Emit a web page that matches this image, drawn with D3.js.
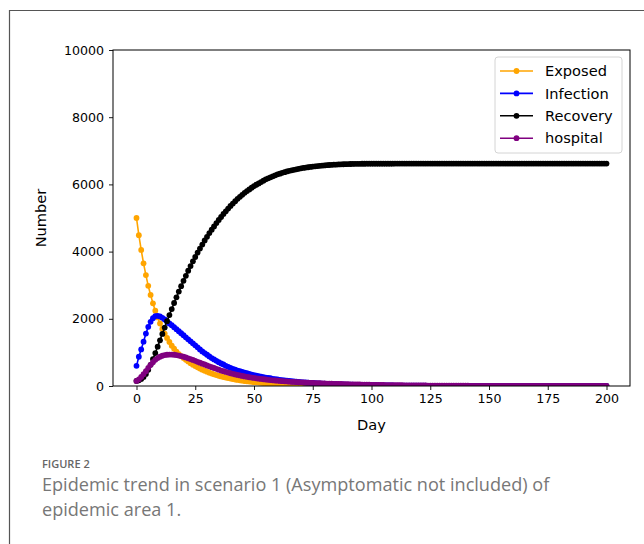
<!DOCTYPE html>
<html lang="en">
<head>
    <meta charset="UTF-8">
    <title>Epidemic trend</title>
    <script src="https://d3js.org/d3.v7.min.js"></script>
    <style>
        body { margin: 0; background: #fff; }
        svg { display: block; }
    </style>
</head>
<body>
<div id="chart"></div>

<script>
    // one value per day, day 0..200
    var exposed = [
        5000, 4490, 4050, 3650, 3300, 2980, 2710, 2460, 2240, 2040,
        1860, 1700, 1560, 1430, 1310, 1200, 1110, 1020, 950, 890,
        830, 780, 730, 680, 635, 595, 555, 520, 485, 455,
        425, 398, 372, 348, 326, 305, 286, 268, 251, 235,
        220, 206, 193, 181, 170, 159, 149, 140, 131, 123,
        115, 108, 101, 95, 89, 83, 78, 73, 68, 64,
        60, 56, 52, 49, 46, 43, 40, 38, 35, 33,
        31, 29, 27, 25, 24, 22, 21, 19, 18, 17,
        16, 15, 14, 13, 12, 11, 10, 10, 9, 8,
        8, 7, 7, 6, 6, 5, 5, 5, 4, 4,
        4, 3, 3, 3, 3, 2, 2, 2, 2, 2,
        2, 1, 1, 1, 1, 1, 1, 1, 1, 1,
        1, 1, 1, 1, 1, 0, 0, 0, 0, 0,
        0, 0, 0, 0, 0, 0, 0, 0, 0, 0,
        0, 0, 0, 0, 0, 0, 0, 0, 0, 0,
        0, 0, 0, 0, 0, 0, 0, 0, 0, 0,
        0, 0, 0, 0, 0, 0, 0, 0, 0, 0,
        0, 0, 0, 0, 0, 0, 0, 0, 0, 0,
        0, 0, 0, 0, 0, 0, 0, 0, 0, 0,
        0, 0, 0, 0, 0, 0, 0, 0, 0, 0,
        0
    ];

    var infection = [
        600, 870, 1090, 1320, 1560, 1760, 1910, 2020, 2080, 2090,
        2070, 2030, 1980, 1920, 1860, 1810, 1750, 1690, 1630, 1570,
        1510, 1450, 1390, 1330, 1270, 1210, 1150, 1090, 1030, 980,
        930, 880, 830, 790, 750, 710, 670, 640, 600, 570,
        540, 510, 490, 460, 440, 420, 400, 380, 360, 340,
        320, 310, 290, 280, 260, 250, 240, 230, 215, 205,
        195, 185, 175, 165, 158, 150, 142, 135, 128, 122,
        116, 110, 104, 99, 94, 89, 85, 80, 76, 72,
        69, 65, 62, 59, 56, 53, 50, 48, 45, 43,
        41, 39, 37, 35, 33, 32, 30, 28, 27, 26,
        24, 23, 22, 21, 20, 19, 18, 17, 16, 15,
        14, 13, 12, 12, 11, 10, 10, 9, 9, 8,
        8, 7, 7, 7, 6, 6, 6, 5, 5, 5,
        5, 4, 4, 4, 4, 3, 3, 3, 3, 3,
        2, 2, 2, 2, 2, 2, 2, 2, 1, 1,
        1, 1, 1, 1, 1, 1, 1, 1, 1, 1,
        1, 1, 1, 1, 1, 0, 0, 0, 0, 0,
        0, 0, 0, 0, 0, 0, 0, 0, 0, 0,
        0, 0, 0, 0, 0, 0, 0, 0, 0, 0,
        0, 0, 0, 0, 0, 0, 0, 0, 0, 0,
        0
    ];

    var recovery = [
        150, 170, 210, 270, 360, 480, 630, 800, 980, 1170,
        1360, 1550, 1740, 1930, 2110, 2290, 2470, 2640, 2810, 2970,
        3130, 3280, 3430, 3570, 3710, 3840, 3970, 4090, 4210, 4330,
        4440, 4550, 4650, 4750, 4850, 4940, 5030, 5120, 5200, 5280,
        5360, 5430, 5500, 5570, 5630, 5690, 5750, 5800, 5850, 5900,
        5950, 5990, 6030, 6070, 6110, 6150, 6180, 6210, 6240, 6270,
        6300, 6320, 6345, 6365, 6385, 6405, 6420, 6435, 6450, 6465,
        6478, 6490, 6500, 6510, 6520, 6530, 6538, 6546, 6553, 6560,
        6566, 6572, 6577, 6582, 6586, 6590, 6594, 6597, 6600, 6603,
        6605, 6607, 6609, 6611, 6612, 6613, 6614, 6615, 6616, 6617,
        6618, 6618, 6618, 6618, 6618, 6618, 6618, 6618, 6618, 6618,
        6619, 6619, 6619, 6619, 6619, 6619, 6619, 6619, 6619, 6619,
        6620, 6620, 6620, 6620, 6620, 6620, 6620, 6620, 6620, 6620,
        6620, 6620, 6620, 6620, 6620, 6620, 6620, 6620, 6620, 6620,
        6620, 6620, 6620, 6620, 6620, 6620, 6620, 6620, 6620, 6620,
        6620, 6620, 6620, 6620, 6620, 6620, 6620, 6620, 6620, 6620,
        6620, 6620, 6620, 6620, 6620, 6620, 6620, 6620, 6620, 6620,
        6620, 6620, 6620, 6620, 6620, 6620, 6620, 6620, 6620, 6620,
        6620, 6620, 6620, 6620, 6620, 6620, 6620, 6620, 6620, 6620,
        6620, 6620, 6620, 6620, 6620, 6620, 6620, 6620, 6620, 6620,
        6620
    ];

    var hospital = [
        150, 200, 270, 350, 440, 540, 630, 710, 780, 830,
        870, 900, 920, 930, 935, 935, 930, 920, 905, 890,
        870, 850, 825, 800, 775, 750, 720, 695, 665, 640,
        610, 585, 560, 535, 510, 485, 460, 440, 420, 400,
        380, 362, 345, 329, 314, 300, 286, 273, 261, 250,
        239, 229, 219, 210, 201, 193, 185, 177, 170, 163,
        157, 151, 145, 140, 135, 130, 125, 120, 116, 112,
        108, 104, 100, 97, 94, 91, 88, 85, 82, 79,
        76, 73, 70, 68, 66, 63, 61, 59, 57, 55,
        53, 51, 49, 47, 45, 44, 42, 40, 39, 37,
        36, 35, 33, 32, 31, 30, 29, 28, 27, 26,
        25, 24, 23, 22, 21, 20, 19, 19, 18, 17,
        16, 16, 15, 15, 14, 13, 13, 12, 12, 11,
        11, 10, 10, 10, 9, 9, 8, 8, 8, 7,
        7, 7, 6, 6, 6, 6, 5, 5, 5, 5,
        4, 4, 4, 4, 4, 3, 3, 3, 3, 3,
        3, 3, 2, 2, 2, 2, 2, 2, 2, 2,
        2, 1, 1, 1, 1, 1, 1, 1, 1, 1,
        1, 1, 1, 1, 1, 1, 1, 1, 1, 1,
        1, 1, 1, 1, 1, 1, 1, 1, 1, 1,
        1
    ];

    var seriesNames = ["Exposed", "Infection", "Recovery", "hospital"];
    var seriesColors = ["orange", "blue", "black", "purple"];
    var xTicks = [0, 25, 50, 75, 100, 125, 150, 175, 200];
    var yTicks = [0, 2000, 4000, 6000, 8000, 10000];

    var series = [exposed, infection, recovery, hospital].map(function (vals, i) {
        return {
            name: seriesNames[i],
            color: seriesColors[i],
            values: vals.map(function (v, day) { return {day: day, value: v}; })
        };
    });

    var W = 644, H = 544,
        margin = {top: 50, right: 14, bottom: 158, left: 113},
        width = W - margin.left - margin.right,
        height = H - margin.top - margin.bottom;

    var svg = d3.select("#chart").append("svg")
        .attr("width", W)
        .attr("height", H)
        .style("font-family", "'DejaVu Sans', sans-serif");

    svg.append("rect").attr("width", W).attr("height", H).attr("fill", "#fff");

    // page frame (top and left edge)
    svg.append("path")
        .attr("d", "M9.5," + H + "V10.5H" + W)
        .attr("fill", "none")
        .attr("stroke", "#555")
        .attr("stroke-width", 1.2);

    var g = svg.append("g").attr("transform", "translate(" + margin.left + "," + margin.top + ")");

    var x = d3.scaleLinear().domain([-10, 210]).range([0, width]);
    var y = d3.scaleLinear().domain([0, 10000]).range([height, 0]);

    g.append("clipPath").attr("id", "plotclip")
        .append("rect").attr("width", width).attr("height", height);

    var line = d3.line()
        .x(function (d) { return x(d.day); })
        .y(function (d) { return y(d.value); });

    var plot = g.append("g").attr("clip-path", "url(#plotclip)");

    series.forEach(function (s) {
        var sg = plot.append("g");
        sg.append("path")
            .datum(s.values)
            .attr("fill", "none")
            .attr("stroke", s.color)
            .attr("stroke-width", 1.6)
            .attr("d", line);
        sg.selectAll("circle")
            .data(s.values)
            .enter().append("circle")
            .attr("cx", function (d) { return x(d.day); })
            .attr("cy", function (d) { return y(d.value); })
            .attr("r", 2.9)
            .attr("fill", s.color);
    });

    // axes
    var xAxis = g.append("g")
        .attr("transform", "translate(0," + height + ")")
        .call(d3.axisBottom(x).tickValues(xTicks).tickSize(4).tickPadding(4).tickSizeOuter(0));
    var yAxis = g.append("g")
        .call(d3.axisLeft(y).tickValues(yTicks).tickFormat(d3.format("d"))
            .tickSize(4).tickPadding(5).tickSizeOuter(0));

    [xAxis, yAxis].forEach(function (a) {
        a.attr("font-family", null).attr("font-size", null);
        a.select(".domain").remove();
        a.selectAll("text").attr("font-size", "12.6px").attr("fill", "#000");
        a.selectAll("line").attr("stroke", "#000").attr("stroke-width", 0.9);
    });

    g.append("rect")
        .attr("width", width)
        .attr("height", height)
        .attr("fill", "none")
        .attr("stroke", "#000")
        .attr("stroke-width", 1);

    g.append("text")
        .attr("x", x(100))
        .attr("y", height + 44)
        .attr("text-anchor", "middle")
        .attr("font-size", "14.6px")
        .text("Day");

    g.append("text")
        .attr("transform", "rotate(-90)")
        .attr("x", -height / 2)
        .attr("y", -67)
        .attr("text-anchor", "middle")
        .attr("font-size", "14.6px")
        .text("Number");

    // legend
    var legend = svg.append("g").attr("transform", "translate(495,57)");
    legend.append("rect")
        .attr("width", 127)
        .attr("height", 96)
        .attr("rx", 3)
        .attr("fill", "#fff")
        .attr("fill-opacity", 0.8)
        .attr("stroke", "#d4d4d4");

    var item = legend.selectAll(".item")
        .data(series)
        .enter().append("g")
        .attr("class", "item")
        .attr("transform", function (d, i) { return "translate(0," + (14 + i * 22.4) + ")"; });
    item.append("line")
        .attr("x1", 5).attr("x2", 38)
        .attr("stroke", function (d) { return d.color; })
        .attr("stroke-width", 1.6);
    item.append("circle")
        .attr("cx", 21.5).attr("r", 2.9)
        .attr("fill", function (d) { return d.color; });
    item.append("text")
        .attr("x", 50)
        .attr("dy", "0.35em")
        .attr("font-size", "14.6px")
        .text(function (d) { return d.name; });

    // caption
    var cap = svg.append("g").style("font-family", "'Open Sans', sans-serif");
    cap.append("text")
        .attr("x", 42).attr("y", 468)
        .attr("font-size", "11px")
        .attr("font-weight", 600)
        .attr("fill", "#666")
        .text("FIGURE 2");
    cap.append("text")
        .attr("x", 42).attr("y", 491)
        .attr("font-size", "18.1px")
        .attr("fill", "#777")
        .text("Epidemic trend in scenario 1 (Asymptomatic not included) of");
    cap.append("text")
        .attr("x", 42).attr("y", 516)
        .attr("font-size", "18.1px")
        .attr("fill", "#777")
        .text("epidemic area 1.");
</script>

</body>
</html>
